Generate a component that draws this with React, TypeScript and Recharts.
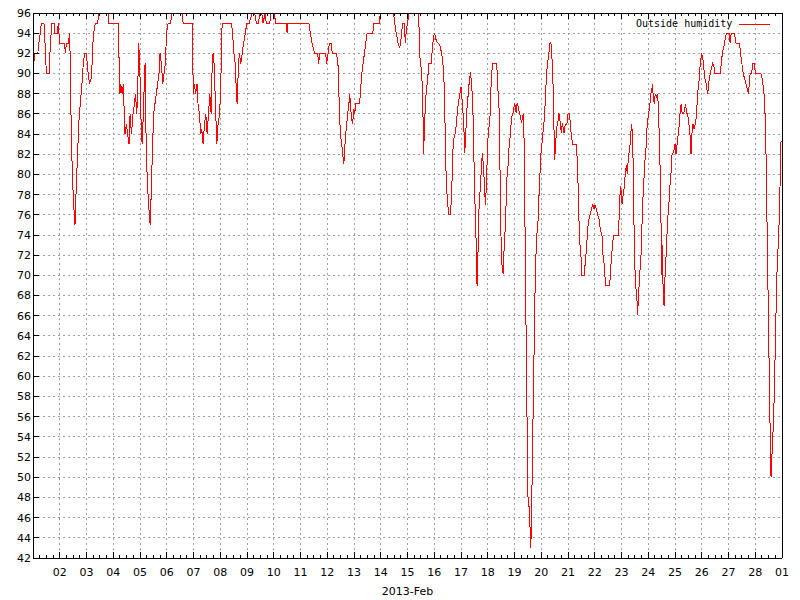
import React from 'react';
import { LineChart, Line, XAxis, YAxis, CartesianGrid, Legend } from 'recharts';

// outside humidity, Feb 2013; t = days since Feb 1 00:00, h = % humidity
const week1: [number, number][] = [
  [0, 91], [0.03, 91], [0.06, 92], [0.18, 92], [0.22, 93], [0.27, 94], [0.31, 95], [0.41, 95],
  [0.45, 93], [0.5, 90], [0.6, 90], [0.65, 93], [0.71, 95], [0.79, 95], [0.82, 94], [0.9, 94],
  [0.95, 95], [0.99, 93], [1.18, 93], [1.21, 92], [1.25, 93], [1.33, 93], [1.36, 94], [1.4, 91],
  [1.42, 86], [1.47, 80], [1.52, 77], [1.57, 75], [1.62, 79], [1.68, 83], [1.73, 86], [1.77, 87],
  [1.83, 89], [1.88, 91], [1.93, 92], [2.0, 92], [2.04, 90.5], [2.11, 89], [2.17, 89.5], [2.21, 91],
  [2.24, 93], [2.29, 94.5], [2.34, 95], [2.41, 95], [2.47, 96], [2.81, 96], [2.84, 95], [3.19, 95],
  [3.22, 91], [3.25, 88], [3.28, 89], [3.33, 88], [3.38, 89], [3.41, 86], [3.44, 84], [3.49, 85],
  [3.54, 84], [3.59, 83], [3.63, 86], [3.68, 84], [3.74, 86], [3.79, 87], [3.83, 88], [3.88, 86],
  [3.92, 89], [3.95, 93], [3.99, 91], [4.03, 86], [4.08, 83], [4.11, 85], [4.16, 89], [4.19, 91],
  [4.21, 86], [4.25, 81], [4.3, 78], [4.35, 76], [4.38, 75], [4.43, 79], [4.46, 82], [4.51, 86],
  [4.56, 87], [4.61, 88], [4.66, 89], [4.71, 90], [4.75, 92], [4.8, 91], [4.85, 89], [4.9, 90],
  [4.95, 91], [4.99, 94], [5.05, 95], [5.14, 95], [5.2, 96], [5.59, 96], [5.61, 95], [5.95, 95],
  [5.97, 91], [6.0, 88], [6.03, 89], [6.08, 88], [6.13, 89], [6.17, 87], [6.22, 86], [6.27, 84],
  [6.31, 84.5], [6.36, 83], [6.41, 85], [6.46, 86], [6.51, 84], [6.56, 86], [6.61, 88], [6.66, 86],
  [6.7, 91], [6.73, 92], [6.77, 91], [6.82, 87], [6.87, 83], [6.92, 85], [6.98, 86],
];

const week2: [number, number][] = [
  [7.04, 91], [7.07, 95], [7.42, 95], [7.46, 94], [7.51, 92], [7.56, 91], [7.59, 89], [7.63, 87],
  [7.67, 90], [7.71, 92], [7.77, 91], [7.82, 92], [7.87, 93], [7.94, 94], [7.99, 95], [8.08, 95],
  [8.19, 96], [8.29, 96], [8.35, 95], [8.43, 95], [8.48, 96], [8.55, 96], [8.6, 95], [8.68, 96],
  [8.72, 95], [8.85, 95], [8.9, 96], [9.02, 96], [9.07, 95], [9.47, 95], [9.5, 94], [9.52, 95],
  [10.31, 95], [10.37, 94], [10.43, 93], [10.53, 92], [10.64, 92], [10.68, 91], [10.72, 92], [10.94, 92],
  [10.98, 91], [11.03, 92], [11.08, 93], [11.14, 93], [11.19, 92], [11.35, 92], [11.39, 91], [11.42, 90.5],
  [11.44, 87.6], [11.49, 84], [11.54, 83], [11.58, 82], [11.62, 81], [11.65, 82.5], [11.69, 84], [11.73, 85],
  [11.76, 86], [11.81, 87], [11.84, 88], [11.88, 86.5], [11.91, 85.5], [11.95, 85], [11.99, 86.5], [12.03, 86],
  [12.06, 87], [12.21, 87], [12.25, 88.5], [12.29, 90], [12.34, 91], [12.39, 92], [12.44, 93], [12.49, 94],
  [12.7, 94], [12.75, 95], [12.94, 95], [12.99, 96], [13.48, 96], [13.52, 95], [13.58, 94], [13.65, 93],
  [13.71, 92.5], [13.76, 93.5], [13.82, 95], [13.88, 95], [13.92, 93], [13.96, 94.5], [14.01, 95], [14.04, 96],
];

const week3: [number, number][] = [
  [14.42, 96], [14.45, 92], [14.53, 90], [14.57, 87.6], [14.6, 82], [14.64, 85], [14.68, 87.6], [14.72, 88.6],
  [14.77, 90], [14.8, 91], [14.89, 91], [14.93, 92.6], [14.97, 93.5], [15.0, 94], [15.04, 93.7], [15.08, 93.2],
  [15.15, 93], [15.21, 92.8], [15.26, 92.2], [15.31, 91.4], [15.36, 89.7], [15.39, 86.7], [15.45, 79.1], [15.5, 77.2],
  [15.54, 76], [15.61, 76], [15.64, 77.7], [15.68, 80.5], [15.7, 82.5], [15.74, 83.7], [15.79, 84.1], [15.83, 85.1],
  [15.86, 86.1], [15.91, 87.3], [15.95, 87.8], [16.0, 88.7], [16.03, 87.8], [16.06, 86.7], [16.1, 85.1], [16.14, 82.1],
  [16.18, 84.1], [16.21, 86.1], [16.25, 87.3], [16.29, 88.7], [16.33, 89.6], [16.36, 90.1], [16.4, 88.7], [16.44, 87.1],
  [16.48, 82.1], [16.51, 78.1], [16.55, 75.2], [16.58, 71.2], [16.6, 69], [16.63, 71.2], [16.65, 75], [16.69, 77.7],
  [16.73, 78.8], [16.76, 80.7], [16.8, 82.1], [16.84, 80.7], [16.88, 78.8], [16.91, 77], [16.95, 78.8], [16.98, 81.6],
  [17.01, 83.7], [17.05, 84.8], [17.09, 86], [17.11, 88.1], [17.15, 90.1], [17.19, 91], [17.33, 91], [17.36, 89.7],
  [17.4, 87.3], [17.44, 86], [17.46, 80], [17.5, 73.1], [17.54, 70.6], [17.58, 70.1], [17.6, 72], [17.64, 74],
  [17.68, 76.6], [17.71, 79.5], [17.75, 80.5], [17.79, 82.5], [17.83, 83.5], [17.86, 84.6], [17.9, 85.7], [17.94, 86],
  [17.98, 86.7], [18.01, 87.1], [18.06, 86.1], [18.1, 87.1], [18.14, 86.7], [18.18, 86.1], [18.23, 85.7], [18.26, 85.1],
  [18.3, 85.7], [18.34, 86], [18.36, 83], [18.4, 73.1], [18.44, 62.5], [18.48, 53.1], [18.51, 47.1], [18.55, 47.1],
  [18.58, 45.1], [18.61, 43], [18.64, 46.5], [18.68, 54], [18.71, 58.4], [18.75, 66], [18.79, 71.2], [18.83, 73.8],
  [18.88, 75.4], [18.91, 77.5], [18.95, 80], [18.99, 82.1], [19.03, 83.2], [19.06, 84.1], [19.1, 85.1], [19.14, 86.7],
  [19.18, 89], [19.21, 90.3], [19.25, 91.3], [19.29, 92.1], [19.33, 93.1], [19.36, 93.1], [19.39, 92.1], [19.43, 90.1],
  [19.46, 86.7], [19.5, 81.4], [19.54, 83.2], [19.58, 84.7], [19.63, 85.3], [19.66, 86.1], [19.7, 85.3], [19.75, 84.1],
  [19.79, 85.1], [19.85, 84.1], [19.9, 85], [19.96, 85], [20.0, 86], [20.05, 86], [20.09, 85], [20.12, 84],
  [20.17, 83], [20.31, 83], [20.35, 81.3], [20.39, 77.8], [20.42, 74.5], [20.46, 72.5], [20.5, 71.5], [20.52, 70],
  [20.61, 70], [20.65, 71.5], [20.69, 72.5], [20.73, 74.5], [20.78, 75.5], [20.83, 76.1], [20.88, 76.6], [20.92, 77.1],
  [20.97, 76.6],
];

const week4: [number, number][] = [
  [21.01, 77], [21.06, 76.6], [21.11, 76], [21.16, 75.6], [21.21, 74.5], [21.27, 74], [21.31, 72], [21.34, 71.5],
  [21.38, 70], [21.41, 69], [21.56, 69], [21.59, 70.5], [21.63, 72], [21.68, 73.5], [21.72, 74], [21.89, 74],
  [21.93, 77.4], [21.97, 78.9], [22.02, 77.1], [22.06, 77.9], [22.11, 78.9], [22.14, 80.1], [22.18, 80.9], [22.22, 80.1],
  [22.24, 81], [22.28, 82.1], [22.32, 83], [22.36, 84.5], [22.38, 85], [22.42, 83.6], [22.45, 77.8], [22.49, 71.5],
  [22.53, 68.9], [22.57, 68.2], [22.6, 66.1], [22.64, 68.2], [22.68, 70], [22.73, 72], [22.76, 74.6], [22.8, 77.5],
  [22.85, 80.1], [22.89, 82], [22.93, 83], [22.96, 85], [23.01, 86], [23.05, 86.7], [23.1, 88], [23.14, 88.5],
  [23.16, 89], [23.19, 87.5], [23.23, 87], [23.26, 88], [23.31, 87.7], [23.35, 88], [23.39, 86], [23.42, 82.7],
  [23.46, 79.1], [23.5, 70], [23.52, 73], [23.56, 68.2], [23.59, 67], [23.62, 69.5], [23.66, 71.5], [23.7, 74],
  [23.74, 76], [23.77, 77], [23.81, 78.8], [23.85, 80.1], [23.89, 82], [23.95, 82.2], [24.0, 83], [24.04, 82],
  [24.08, 83], [24.12, 84], [24.16, 85], [24.2, 86.5], [24.23, 87], [24.27, 86], [24.32, 86], [24.36, 86.5],
  [24.4, 87], [24.43, 86], [24.47, 86], [24.52, 85], [24.56, 84], [24.6, 82], [24.63, 84], [24.67, 85],
  [24.71, 84.5], [24.76, 85], [24.81, 86], [24.84, 88], [24.89, 89], [24.93, 90.5], [24.97, 91.5], [25.0, 92],
  [25.04, 91.5], [25.08, 90.5], [25.12, 89.5], [25.17, 89], [25.21, 88], [25.25, 88.5], [25.28, 89.5], [25.32, 90],
  [25.36, 90.5], [25.41, 91], [25.46, 90.6], [25.49, 90], [25.69, 90], [25.73, 91], [25.77, 92], [25.82, 92.6],
  [25.87, 93.3], [25.92, 94], [26.03, 94], [26.06, 93], [26.1, 94], [26.22, 94], [26.28, 93], [26.41, 93],
  [26.45, 92], [26.5, 91], [26.55, 90], [26.6, 89.5], [26.65, 89], [26.7, 88.5], [26.74, 88], [26.78, 89],
  [26.81, 90], [26.86, 90], [26.91, 91], [26.96, 91], [27.01, 90], [27.21, 90], [27.26, 89.5], [27.3, 88.7],
  [27.34, 87.6], [27.38, 85.1], [27.42, 79.6], [27.45, 73.1], [27.49, 66.5], [27.53, 58.9], [27.57, 52.5], [27.59, 50],
  [27.62, 52], [27.65, 53.6], [27.69, 56.1], [27.73, 60.5], [27.77, 65.5], [27.81, 70.1], [27.85, 72.6], [27.88, 74.2],
  [27.92, 78.1], [27.96, 83.2], [28, 83.3],
];

const dayLabels = [
  '02', '03', '04', '05', '06', '07', '08', '09', '10', '11', '12', '13', '14', '15',
  '16', '17', '18', '19', '20', '21', '22', '23', '24', '25', '26', '27', '28', '01',
];
const humidityTicks = [
  42, 44, 46, 48, 50, 52, 54, 56, 58, 60, 62, 64, 66, 68,
  70, 72, 74, 76, 78, 80, 82, 84, 86, 88, 90, 92, 94, 96,
];

const dayTicks = dayLabels.map((_, i) => i + 1);
// major tick every day, minor tick every 6 hours
const quarterTicks = Array.from({ length: 28 * 4 + 1 }, (_, i) => i / 4);

const data = [...week1, ...week2, ...week3, ...week4].map(([t, h]) => ({ t, h }));

const FONT = '"DejaVu Sans", sans-serif';

const BottomTick = (props: any) => {
  const { x, y, payload } = props;
  const major = Number.isInteger(payload.value);
  const label = major ? dayLabels[payload.value - 1] : undefined;
  return (
    <g>
      <line x1={x} x2={x} y1={y} y2={y - (major ? 6 : 3)} stroke="#000" shapeRendering="crispEdges" />
      {label && (
        <text x={x} y={y + 18} textAnchor="middle" fill="#000" fontSize={11} fontFamily={FONT}>
          {label}
        </text>
      )}
    </g>
  );
};

const TopTick = (props: any) => {
  const { x, y, payload } = props;
  const major = Number.isInteger(payload.value);
  return <line x1={x} x2={x} y1={y} y2={y + (major ? 6 : 3)} stroke="#000" shapeRendering="crispEdges" />;
};

const LegendBox = () => (
  <div
    style={{
      display: 'flex',
      alignItems: 'center',
      fontFamily: '"DejaVu Sans Mono", monospace',
      fontSize: 10,
      lineHeight: '12px',
      color: '#000',
    }}
  >
    <span>Outside humidity</span>
    <svg width={42} height={12}>
      <line x1={7} x2={38} y1={6} y2={6} stroke="#ff0000" shapeRendering="crispEdges" />
    </svg>
  </div>
);

export default function App() {
  return (
    <div style={{ position: 'absolute', left: 0, top: 0, width: 800, height: 600, background: '#fff' }}>
      <LineChart width={800} height={600} data={data} margin={{ top: 1, right: 0, bottom: 12, left: 0 }}>
        <CartesianGrid
          stroke="#a0a0a0"
          strokeDasharray="2 3"
          verticalValues={dayTicks}
          horizontalValues={humidityTicks}
          shapeRendering="crispEdges"
        />
        <XAxis
          dataKey="t"
          type="number"
          domain={[0, 28]}
          ticks={quarterTicks}
          interval={0}
          height={30}
          tickSize={0}
          tickMargin={0}
          tickLine={false}
          axisLine={{ stroke: '#000', shapeRendering: 'crispEdges' }}
          tick={<BottomTick />}
          label={{ value: '2013-Feb', position: 'bottom', offset: -1, fill: '#000', fontSize: 11, fontFamily: FONT }}
        />
        <XAxis
          xAxisId="top"
          orientation="top"
          dataKey="t"
          type="number"
          domain={[0, 28]}
          ticks={quarterTicks}
          interval={0}
          height={12}
          tickSize={0}
          tickMargin={0}
          tickLine={false}
          axisLine={{ stroke: '#000', shapeRendering: 'crispEdges' }}
          tick={<TopTick />}
        />
        <YAxis
          type="number"
          domain={[42, 96]}
          ticks={humidityTicks}
          interval={0}
          width={33}
          tickSize={-6}
          tickMargin={8}
          axisLine={{ stroke: '#000', shapeRendering: 'crispEdges' }}
          tickLine={{ stroke: '#000', shapeRendering: 'crispEdges' }}
          tick={{ fill: '#000', fontSize: 11, fontFamily: FONT }}
        />
        <YAxis
          yAxisId="right"
          orientation="right"
          type="number"
          domain={[42, 96]}
          ticks={humidityTicks}
          interval={0}
          width={18}
          tickSize={-6}
          tick={false}
          axisLine={{ stroke: '#000', shapeRendering: 'crispEdges' }}
          tickLine={{ stroke: '#000', shapeRendering: 'crispEdges' }}
        />
        <Legend
          verticalAlign="middle"
          align="center"
          content={<LegendBox />}
          wrapperStyle={{ position: 'absolute', top: 18, left: 636, width: 150, height: 12 }}
        />
        <Line
          type="linear"
          dataKey="h"
          name="Outside humidity"
          stroke="#ff0000"
          strokeWidth={1}
          shapeRendering="crispEdges"
          dot={false}
          activeDot={false}
          isAnimationActive={false}
        />
      </LineChart>
    </div>
  );
}
